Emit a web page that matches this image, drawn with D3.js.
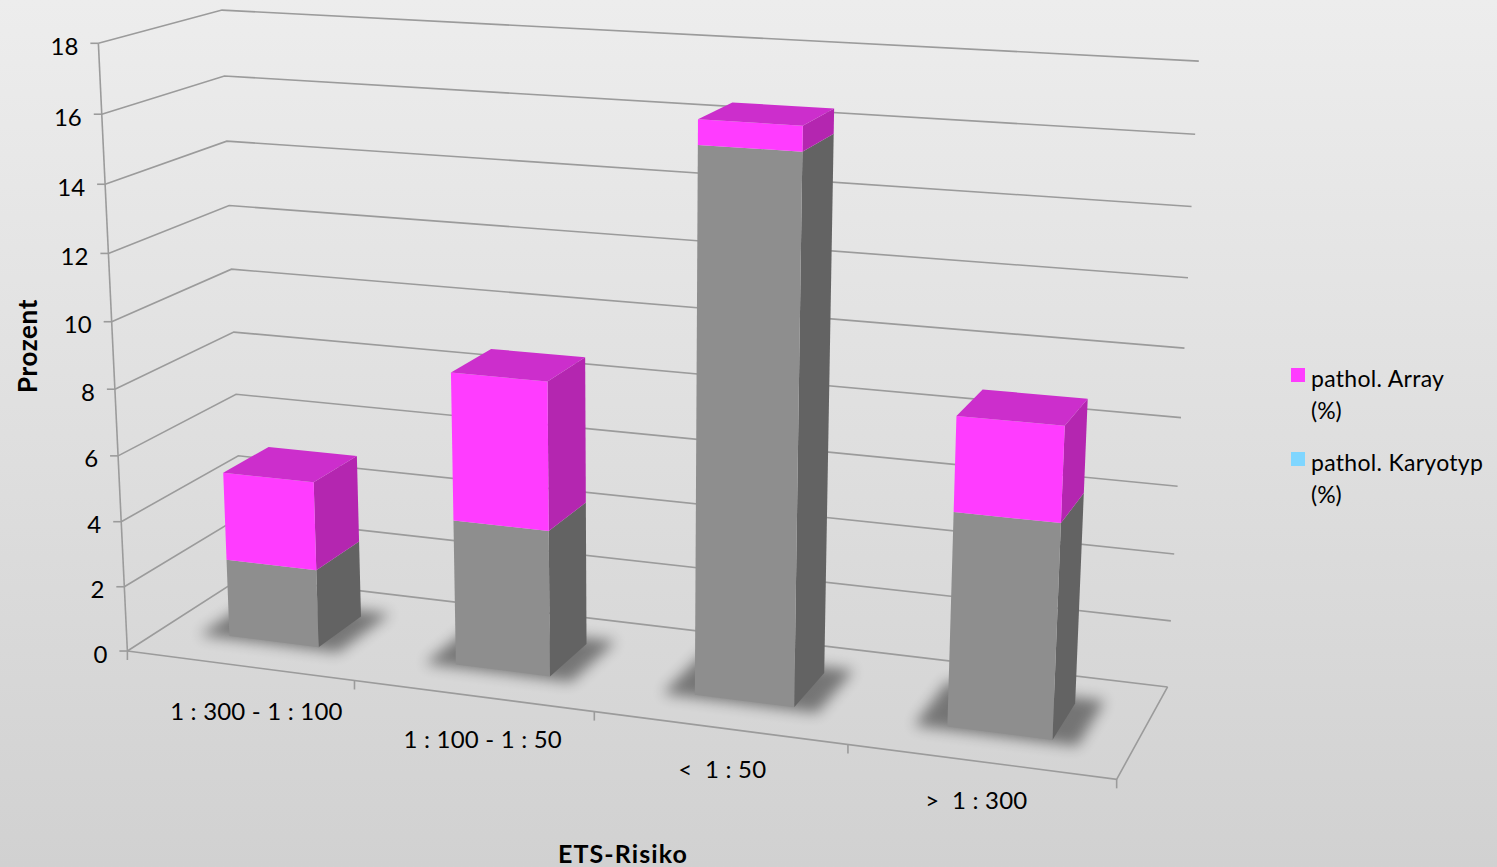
<!DOCTYPE html>
<html>
<head>
<meta charset="utf-8">
<script src="https://cdn.jsdelivr.net/npm/d3@7"></script>
<style>
  html, body { margin: 0; padding: 0; background: #e6e6e6; }
  svg { display: block; }
  text { font-family: Lato, "Open Sans", sans-serif; fill: #000; }
</style>
</head>
<body>
<svg id="chart" width="1497" height="867"></svg>
<script>
// ETS risk groups and stacked percentages
const categories = ["1 : 300 - 1 : 100", "1 : 100 - 1 : 50", "<  1 : 50", ">  1 : 300"];
const karyotypValues = [2.4, 4.4, 15.8, 6.2];   // lower segment
const arrayValues = [2.7, 4.4, 0.7, 2.7];       // upper segment
const yTicks = [0, 2, 4, 6, 8, 10, 12, 14, 16, 18];
const seriesNames = [["pathol. Array", "(%)"], ["pathol. Karyotyp", "(%)"]];
const seriesColors = ["#ff3cff", "#7fd6ff"];

const W = 1497, H = 867;
const svg = d3.select("#chart");

// ---- background ----
const defs = svg.append("defs");
const bg = defs.append("linearGradient").attr("id", "bg").attr("x1", 0).attr("y1", 0).attr("x2", 0).attr("y2", 1);
bg.append("stop").attr("offset", "0%").attr("stop-color", "#ededed");
bg.append("stop").attr("offset", "100%").attr("stop-color", "#d1d1d1");
svg.append("rect").attr("width", W).attr("height", H).attr("fill", "url(#bg)");
defs.append("filter").attr("id", "shadowBlur").attr("x", "-50%").attr("y", "-50%").attr("width", "200%").attr("height", "200%")
  .append("feGaussianBlur").attr("stdDeviation", 7);

// ---- scales in normalised 3-D space (x across, y up, z into the page) ----
const xBand = d3.scaleBand().domain(categories).range([0, 1]).paddingInner(0.6).paddingOuter(0.3);
const yScale = d3.scaleLinear().domain([0, 18]).range([0, 1]);
const zFront = 0.3, zBack = 0.7;

// ---- perspective camera: fit a 3x4 projective matrix to the plot-box anchors ----
const anchors = [
  [[0, 0, 0], [128, 648]], [[0, 1, 0], [98, 43]],
  [[0, 0, 1], [242, 577]], [[0, 1, 1], [222, 11]],
  [[1, 0, 1], [1168, 686]], [[1, 1, 1], [1199, 61]],
  [[1, 0, 0], [1116, 778]],
  [[0, 8 / 18, 0], [115, 388]], [[0, 8 / 18, 1], [234, 332]],
  [[0.25, 0, 0], [355, 683]], [[0.5, 0, 0], [594, 715]]
];

function solveLinear(M, r) {
  const n = r.length;
  const A = M.map((row, i) => row.concat([r[i]]));
  for (let c = 0; c < n; c++) {
    let piv = c;
    for (let k = c + 1; k < n; k++) if (Math.abs(A[k][c]) > Math.abs(A[piv][c])) piv = k;
    [A[c], A[piv]] = [A[piv], A[c]];
    for (let k = c + 1; k < n; k++) {
      const f = A[k][c] / A[c][c];
      for (let j = c; j <= n; j++) A[k][j] -= f * A[c][j];
    }
  }
  const x = new Array(n).fill(0);
  for (let i = n - 1; i >= 0; i--) {
    let s = A[i][n];
    for (let j = i + 1; j < n; j++) s -= A[i][j] * x[j];
    x[i] = s / A[i][i];
  }
  return x;
}

function fitCamera(pairs) {
  const rows = [], rhs = [];
  pairs.forEach(([[X, Y, Z], [u0, v0]]) => {
    const u = u0 / 1000, v = v0 / 1000;
    rows.push([X, Y, Z, 1, 0, 0, 0, 0, -u * X, -u * Y, -u * Z]); rhs.push(u);
    rows.push([0, 0, 0, 0, X, Y, Z, 1, -v * X, -v * Y, -v * Z]); rhs.push(v);
  });
  const n = 11;
  const AtA = d3.range(n).map(i => d3.range(n).map(j => d3.sum(rows, r => r[i] * r[j])));
  const Atb = d3.range(n).map(i => d3.sum(rows, (r, k) => r[i] * rhs[k]));
  return solveLinear(AtA, Atb);
}
const cam = fitCamera(anchors);
function P(x, y, z) {
  const d = cam[8] * x + cam[9] * y + cam[10] * z + 1;
  return [1000 * (cam[0] * x + cam[1] * y + cam[2] * z + cam[3]) / d,
          1000 * (cam[4] * x + cam[5] * y + cam[6] * z + cam[7]) / d];
}
const line = d3.line();

// ---- walls: gridlines on side wall and back wall ----
const gridColor = "#9b9b9b";
const grid = svg.append("g").attr("fill", "none").attr("stroke", gridColor).attr("stroke-width", 1.6);
grid.selectAll("path.grid").data(yTicks).join("path").attr("class", "grid")
  .attr("d", t => line([P(0, yScale(t), 0), P(0, yScale(t), 1), P(1, yScale(t), 1)]));

// vertical value axis and floor edges
grid.append("path").attr("d", line([P(0, 0, 0), P(0, 1, 0)]));
grid.append("path").attr("d", line([P(0, 0, 0), P(1, 0, 0), P(1, 0, 1)]));

// value-axis ticks and labels
grid.selectAll("path.ytick").data(yTicks).join("path").attr("class", "ytick")
  .attr("d", t => { const p = P(0, yScale(t), 0); return line([[p[0] - 8, p[1]], p]); });
svg.append("g").selectAll("text").data(yTicks).join("text")
  .attr("x", t => P(0, yScale(t), 0)[0] - 20)
  .attr("y", t => P(0, yScale(t), 0)[1] + 2)
  .attr("text-anchor", "end").attr("dominant-baseline", "central")
  .attr("font-size", 24).text(t => t);

// category ticks on front floor edge
const catEdges = categories.map(c => xBand(c) - xBand.step() * 0.3).concat([1]);
grid.selectAll("path.xtick").data(catEdges).join("path").attr("class", "xtick")
  .attr("d", x => { const p = P(x, 0, 0); return line([p, [p[0], p[1] + 9]]); });

// category labels, set below the front floor edge
svg.append("g").selectAll("text").data(categories).join("text")
  .attr("x", (c, i) => P(xBand(c) + xBand.bandwidth() / 2, 0, 0)[0] + 17 - 7 * i)
  .attr("y", (c, i) => P(xBand(c) + xBand.bandwidth() / 2, 0, 0)[1] + 45 - 2.3 * i)
  .attr("text-anchor", "middle").attr("dominant-baseline", "central")
  .attr("font-size", 24).attr("letter-spacing", 0.2).style("white-space", "pre")
  .text(c => c);

// ---- bars ----
const stacks = categories.map((c, i) => ({
  cat: c,
  segs: [
    { y0: 0, y1: karyotypValues[i], front: "#8e8e8e", side: "#636363", top: "#7a7a7a" },
    { y0: karyotypValues[i], y1: karyotypValues[i] + arrayValues[i], front: "#ff3cff", side: "#b426b0", top: "#cc2ecc" }
  ]
}));

const barsG = svg.append("g");
stacks.forEach(s => {
  const x0 = xBand(s.cat), x1 = x0 + xBand.bandwidth();
  // soft floor shadow around the base
  barsG.append("path")
    .attr("d", line([P(x0 - 0.03, 0, zFront - 0.03), P(x1 + 0.025, 0, zFront - 0.03),
                     P(x1 + 0.025, 0, zBack + 0.07), P(x0 - 0.03, 0, zBack + 0.07)]) + "Z")
    .attr("fill", "#000").attr("opacity", 0.45).attr("filter", "url(#shadowBlur)");
  s.segs.forEach((g, k) => {
    const y0 = yScale(g.y0), y1 = yScale(g.y1);
    barsG.append("path")
      .attr("d", line([P(x1, y0, zFront), P(x1, y0, zBack), P(x1, y1, zBack), P(x1, y1, zFront)]) + "Z")
      .attr("fill", g.side);
    barsG.append("path")
      .attr("d", line([P(x0, y0, zFront), P(x1, y0, zFront), P(x1, y1, zFront), P(x0, y1, zFront)]) + "Z")
      .attr("fill", g.front);
    if (k === s.segs.length - 1) {
      barsG.append("path")
        .attr("d", line([P(x0, y1, zFront), P(x1, y1, zFront), P(x1, y1, zBack), P(x0, y1, zBack)]) + "Z")
        .attr("fill", g.top);
    }
  });
});

// ---- axis titles ----
svg.append("text").attr("transform", "translate(27,346) rotate(-90)")
  .attr("text-anchor", "middle").attr("dominant-baseline", "central")
  .attr("font-size", 26).attr("font-weight", 700).attr("letter-spacing", 0.6).text("Prozent");
svg.append("text").attr("x", 623).attr("y", 853)
  .attr("text-anchor", "middle").attr("dominant-baseline", "central")
  .attr("font-size", 25).attr("font-weight", 700).attr("letter-spacing", 1.1).text("ETS-Risiko");

// ---- legend ----
const legend = svg.append("g").attr("transform", "translate(1291,368)");
const item = legend.selectAll("g").data(seriesNames).join("g")
  .attr("transform", (d, i) => `translate(0,${i * 84})`);
item.append("rect").attr("width", 14).attr("height", 14).attr("fill", (d, i) => seriesColors[i]);
item.append("text").attr("x", 20).attr("y", 19).attr("font-size", 23).attr("letter-spacing", 0.3).text(d => d[0]);
item.append("text").attr("x", 20).attr("y", 51).attr("font-size", 23).text(d => d[1]);
</script>
</body>
</html>
